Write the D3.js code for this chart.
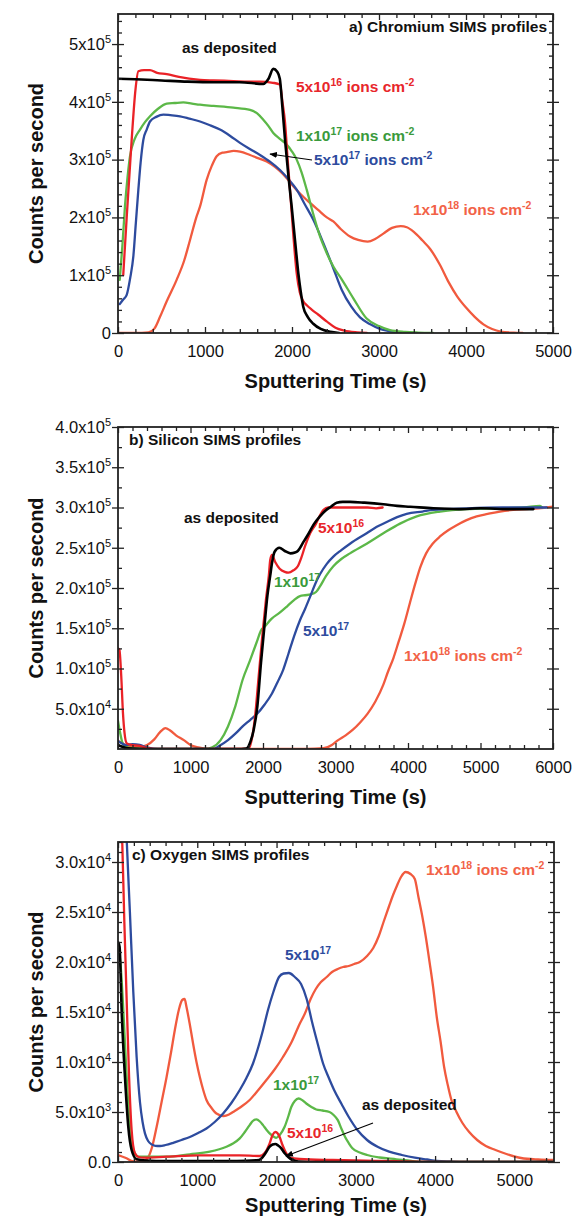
<!DOCTYPE html>
<html><head><meta charset="utf-8">
<script src="https://cdn.jsdelivr.net/npm/d3@7"></script>
<style>
body{margin:0;background:#fff}
svg{display:block}
text{font-family:"Liberation Sans",Arial,Helvetica,sans-serif;fill:#111}
</style>
</head><body>
<svg id="chart" width="573" height="1219"></svg>
<script>
// ---------------- DATA: (a) Chromium SIMS profiles  [time (s), counts/s] ----------------
const crAsDeposited = [[0,440000],[200,439000],[500,437000],[800,435000],[1100,434000],[1400,434000],[1670,431000],[1730,440000],[1785,457000],[1830,452000],[1860,440000],[1890,390000],[1920,334000],[1960,270000],[1996,219000],[2035,160000],[2073,103000],[2100,72000],[2130,45000],[2180,28000],[2245,16000],[2330,7000],[2440,2000],[2540,0]];
const cr5e16 = [[60,100000],[100,200000],[157,334000],[200,420000],[234,453000],[300,455000],[368,455000],[450,450000],[560,448000],[700,443000],[943,438000],[1100,437000],[1326,436000],[1500,435000],[1630,435000],[1780,433000],[1862,430000],[1890,400000],[1920,364000],[1950,300000],[1977,248000],[2015,170000],[2054,103000],[2090,70000],[2130,55000],[2170,48000],[2230,40000],[2300,32000],[2398,20000],[2500,9000],[2600,4000],[2750,1000],[2860,0]];
const cr1e17 = [[20,92000],[50,150000],[80,219000],[110,270000],[138,306000],[190,335000],[253,352000],[310,365000],[368,375000],[460,388000],[560,397000],[650,398000],[751,399000],[850,397000],[943,395000],[1100,393000],[1326,390000],[1517,386000],[1600,380000],[1670,369000],[1730,358000],[1785,346000],[1860,336000],[1939,326000],[2000,314000],[2054,300000],[2110,278000],[2169,248000],[2240,208000],[2322,167000],[2400,138000],[2475,115000],[2575,92000],[2705,60000],[2858,25000],[3000,12000],[3126,5000],[3300,2000],[3450,800],[3620,0]];
const cr5e17 = [[20,50000],[60,58000],[100,66000],[140,95000],[176,132000],[205,190000],[234,248000],[260,295000],[291,334000],[330,352000],[368,366000],[440,374000],[521,378000],[600,377000],[713,375000],[820,371000],[943,366000],[1050,360000],[1172,352000],[1290,341000],[1402,329000],[1520,318000],[1632,308000],[1750,296000],[1862,282000],[1960,266000],[2054,248000],[2150,222000],[2245,196000],[2362,155000],[2475,112000],[2571,75000],[2680,46000],[2782,27000],[2900,15000],[3011,7000],[3120,3000],[3250,0]];
const cr1e18 = [[0,0],[200,0],[350,1000],[420,8000],[483,28000],[560,55000],[674,92000],[760,125000],[828,161000],[900,200000],[943,219000],[1019,265000],[1080,290000],[1134,306000],[1200,312000],[1249,313000],[1330,315000],[1402,314000],[1517,308000],[1600,303000],[1709,297000],[1800,288000],[1862,280000],[1940,268000],[2015,254000],[2100,240000],[2207,225000],[2300,213000],[2400,200000],[2475,193000],[2560,180000],[2667,167000],[2760,161000],[2870,158000],[2960,163000],[3050,172000],[3150,182000],[3250,185000],[3320,183000],[3400,175000],[3500,160000],[3590,145000],[3700,118000],[3800,88000],[3900,63000],[4000,44000],[4100,28000],[4200,15000],[4300,7000],[4400,2500],[4550,500],[4650,0]];
const crXTicks = [0,1000,2000,3000,4000,5000];
const crYTicks = [0,100000,200000,300000,400000,500000];
const crYTickLabels = [["0",""],["1x10","5"],["2x10","5"],["3x10","5"],["4x10","5"],["5x10","5"]];

// ---------------- DATA: (b) Silicon SIMS profiles ----------------
const siAsDeposited = [[0,5000],[50,3000],[100,1500],[200,500],[400,0],[1700,0],[1770,500],[1830,10000],[1872,24000],[1922,53000],[1972,107000],[2023,156000],[2060,190000],[2099,215000],[2124,231000],[2160,245000],[2226,250000],[2300,246000],[2378,243000],[2440,244000],[2480,246000],[2550,256000],[2632,268000],[2700,279000],[2785,289000],[2860,296000],[2937,301000],[3016,306000],[3100,307000],[3200,307000],[3400,306000],[3660,304000],[3850,302000],[4028,301000],[4349,299000],[4700,298000],[5000,299000],[5400,298000],[5729,298000]];
const si5e16 = [[0,125000],[20,123000],[45,90000],[69,44000],[90,20000],[121,7000],[180,5000],[300,4000],[400,1000],[500,0],[1800,0],[1840,10000],[1890,40000],[1940,90000],[1990,140000],[2040,185000],[2080,215000],[2100,235000],[2124,241000],[2170,232000],[2230,224000],[2300,220000],[2350,219000],[2420,222000],[2480,227000],[2530,238000],[2580,252000],[2650,268000],[2731,280000],[2790,291000],[2835,297000],[2900,300000],[3050,300000],[3250,300000],[3443,300000],[3560,299000],[3650,300000]];
const si1e17 = [[0,35000],[30,20000],[60,8000],[100,3000],[200,1000],[400,0],[1200,0],[1300,2000],[1415,11000],[1517,28000],[1618,53000],[1719,86000],[1821,110000],[1922,135000],[1970,147000],[2023,152000],[2120,162000],[2226,169000],[2330,177000],[2428,185000],[2510,190000],[2580,191000],[2658,192000],[2731,195000],[2786,202000],[2870,215000],[2970,227000],[3080,236000],[3200,243000],[3430,255000],[3660,268000],[3890,280000],[4120,289000],[4441,295000],[4809,298000],[5269,299000],[5600,300000],[5821,302000],[5850,300000]];
const si5e17 = [[0,10000],[50,7000],[100,5000],[200,6000],[300,5000],[400,2000],[550,0],[1312,0],[1400,4000],[1517,11000],[1619,19000],[1719,28000],[1822,36000],[1922,44000],[2020,55000],[2124,69000],[2200,83000],[2277,98000],[2350,118000],[2428,140000],[2510,160000],[2580,174000],[2658,191000],[2720,205000],[2786,217000],[2880,230000],[2970,239000],[3080,247000],[3200,255000],[3430,268000],[3570,276000],[3706,282000],[3850,288000],[3982,292000],[4200,295000],[4349,297000],[4809,299000],[5300,300000],[5913,300000]];
const si1e18 = [[0,10000],[50,8000],[100,5000],[200,3000],[300,3000],[400,5000],[500,12000],[580,21000],[654,26000],[720,23000],[800,17000],[908,11000],[1000,5000],[1110,2000],[1200,500],[1300,0],[2600,0],[2835,1000],[2950,5000],[3036,11000],[3140,17000],[3240,24000],[3340,33000],[3443,44000],[3550,59000],[3660,80000],[3720,95000],[3799,113000],[3870,133000],[3950,156000],[4028,182000],[4102,206000],[4170,226000],[4250,243000],[4340,255000],[4441,264000],[4560,272000],[4671,278000],[4800,284000],[4947,289000],[5100,292000],[5269,295000],[5450,297000],[5637,298000],[5800,299000],[6000,301000]];
const siXTicks = [0,1000,2000,3000,4000,5000,6000];
const siYTicks = [50000,100000,150000,200000,250000,300000,350000,400000];
const siYTickLabels = [["5.0x10","4"],["1.0x10","5"],["1.5x10","5"],["2.0x10","5"],["2.5x10","5"],["3.0x10","5"],["3.5x10","5"],["4.0x10","5"]];

// ---------------- DATA: (c) Oxygen SIMS profiles ----------------
const oAsDeposited = [[0,22000],[20,21500],[46,15200],[88,8500],[130,3500],[172,1200],[235,270],[350,150],[613,100],[1000,100],[1500,100],[1780,200],[1829,530],[1870,1000],[1913,1530],[1950,1750],[1985,1800],[2020,1650],[2060,1370],[2100,900],[2144,530],[2200,200],[2270,50],[2400,0],[5500,0]];
const o5e16 = [[0,40000],[50,33000],[80,24000],[110,16000],[140,8500],[172,3200],[214,870],[260,500],[319,430],[613,530],[1032,670],[1536,670],[1787,600],[1850,900],[1913,1860],[1950,2700],[1985,3000],[2015,2850],[2039,2500],[2070,1800],[2102,1200],[2135,700],[2165,430],[2291,300],[2710,200],[3000,150],[3500,80],[4000,20],[5500,0]];
const o1e17 = [[0,21300],[30,20000],[67,15200],[109,8500],[151,3500],[193,1200],[256,530],[613,530],[906,770],[1158,1030],[1368,1530],[1450,1850],[1536,2360],[1600,3000],[1661,3690],[1700,4100],[1745,4260],[1790,4050],[1829,3690],[1870,3250],[1913,2860],[1960,2560],[1997,2420],[2040,2700],[2102,3520],[2150,4600],[2186,5500],[2230,6100],[2278,6350],[2330,6150],[2375,5850],[2440,5500],[2501,5250],[2580,5150],[2668,5000],[2720,4700],[2773,4190],[2820,3300],[2865,2500],[2910,1900],[2957,1370],[3050,950],[3142,700],[3300,450],[3512,270],[3700,100],[3840,0],[5500,0]];
const o5e17 = [[0,60000],[111,32000],[150,25000],[193,17000],[235,10500],[277,6000],[310,4000],[340,2860],[380,2100],[424,1760],[470,1620],[529,1600],[600,1700],[696,1920],[800,2200],[906,2500],[1010,2900],[1116,3350],[1220,4000],[1326,4850],[1430,5900],[1536,7200],[1620,8400],[1703,9850],[1770,11500],[1829,13200],[1892,15200],[1960,17000],[2031,18500],[2090,18850],[2156,18900],[2230,18500],[2309,17800],[2380,16300],[2448,14000],[2520,11800],[2587,9850],[2660,8400],[2726,7200],[2820,5800],[2911,4500],[3020,3200],[3142,2200],[3280,1500],[3420,1030],[3580,700],[3744,430],[3900,250],[4021,100],[4200,50],[4500,0],[5500,0]];
const o1e18 = [[0,700],[100,400],[193,50],[300,0],[382,500],[430,1500],[487,3500],[550,6000],[613,8500],[670,11000],[717,13200],[770,15300],[810,16200],[840,16300],[864,15500],[905,13800],[948,11800],[990,10000],[1032,8500],[1075,7200],[1116,6200],[1180,5400],[1242,4850],[1334,4600],[1400,4750],[1452,5000],[1550,5500],[1661,6200],[1770,7200],[1872,8200],[1980,9300],[2081,10500],[2190,12000],[2291,13800],[2355,14800],[2430,16300],[2495,17300],[2560,18000],[2633,18500],[2700,19000],[2772,19300],[2840,19500],[2911,19600],[2980,19800],[3050,20000],[3142,20600],[3220,21400],[3290,22600],[3350,24000],[3420,25600],[3470,26700],[3512,27500],[3570,28500],[3628,29000],[3690,28800],[3744,28300],[3790,26500],[3840,24500],[3883,22500],[3930,20000],[3975,17500],[4021,14500],[4070,12000],[4114,9500],[4160,7700],[4206,6200],[4270,5000],[4345,3900],[4430,3000],[4531,2200],[4640,1600],[4762,1200],[4900,800],[5085,400],[5300,250],[5500,200]];
const oXTicks = [0,1000,2000,3000,4000,5000];
const oYTicks = [0,5000,10000,15000,20000,25000,30000];
const oYTickLabels = [["0.0",""],["5.0x10","3"],["1.0x10","4"],["1.5x10","4"],["2.0x10","4"],["2.5x10","4"],["3.0x10","4"]];

// ---------------- DRAWING ----------------
const COL = {black:"#000000", red:"#ea2227", green:"#5cb848", blue:"#2d4b9e", orange:"#f15a3e"};
const LBL = {black:"#111111", red:"#e8262b", green:"#3a9a3c", blue:"#2d4b9e", orange:"#f26247"};
const svg = d3.select("#chart");
const defs = svg.append("defs");
defs.append("marker").attr("id","arrow").attr("viewBox","0 0 10 10").attr("refX",9).attr("refY",5)
  .attr("markerWidth",7).attr("markerHeight",7).attr("orient","auto-start-reverse")
  .append("path").attr("d","M0,1 L10,5 L0,9 z").attr("fill","#000");

function supText(sel, parts, baseSize, supSize, rise){
  let prevSup=false;
  parts.forEach(([t,s])=>{
    const ts = sel.append("tspan").text(t).style("font-size",(s?supSize:baseSize)+"px");
    if(s && !prevSup) ts.attr("dy",-rise);
    if(!s && prevSup) ts.attr("dy",rise);
    prevSup=s;
  });
}

function drawPanel(p){
  const x = d3.scaleLinear().domain([0,p.xMax]).range([p.L,p.R]);
  const y = d3.scaleLinear().domain([0,p.yMax]).range([p.B,p.T]);
  const g = svg.append("g");
  const cid = "clip"+p.id;
  defs.append("clipPath").attr("id",cid).append("rect")
    .attr("x",p.L).attr("y",p.T).attr("width",p.R-p.L).attr("height",p.B-p.T);

  const line = d3.line().x(d=>x(d[0])).y(d=>y(d[1])).curve(d3.curveMonotoneX);
  const lg = g.append("g").attr("clip-path",`url(#${cid})`);
  p.series.forEach(s=>{
    lg.append("path").datum(s.data).attr("d",line).attr("fill","none")
      .attr("stroke",COL[s.c]).attr("stroke-width",s.c==="black"?2.6:2.3)
      .attr("stroke-linejoin","round").attr("stroke-linecap","round");
  });

  const xMinor = d3.range(0,p.xMax+1,p.xMinorStep).filter(v=>!p.xTicks.includes(v));
  const yMinor = d3.range(0,p.yMax+1,p.yMinorStep).filter(v=>!p.yTicks.includes(v) && v>0);

  const bx = g.append("g").attr("transform",`translate(0,${p.B})`)
    .call(d3.axisBottom(x).tickValues(p.xTicks).tickSize(-6).tickPadding(12).tickFormat(d3.format("d")));
  bx.selectAll("text").style("font-size","16.5px").attr("fill","#111");
  g.append("g").attr("transform",`translate(0,${p.B})`)
    .call(d3.axisBottom(x).tickValues(xMinor).tickSize(-4).tickFormat(""));
  g.append("g").attr("transform",`translate(0,${p.T})`)
    .call(d3.axisTop(x).tickValues(p.xTicks).tickSize(-6).tickFormat(""));
  g.append("g").attr("transform",`translate(0,${p.T})`)
    .call(d3.axisTop(x).tickValues(xMinor).tickSize(-4).tickFormat(""));
  const ly = g.append("g").attr("transform",`translate(${p.L},0)`)
    .call(d3.axisLeft(y).tickValues(p.yTicks).tickSize(6).tickPadding(1));
  ly.selectAll(".tick line").attr("x1",6);
  ly.selectAll(".tick text").each(function(d,i){
    const t = d3.select(this); t.text(null).style("font-size","16.5px").attr("fill","#111");
    const lab = p.yLabels[i];
    const parts=[[lab[0],false]]; if(lab[1]) parts.push([lab[1],true]);
    supText(t, parts, 16.5, 11, 7);
  });
  g.append("g").attr("transform",`translate(${p.L},0)`)
    .call(d3.axisLeft(y).tickValues(yMinor).tickSize(-4).tickFormat(""));
  const ry = g.append("g").attr("transform",`translate(${p.R},0)`)
    .call(d3.axisRight(y).tickValues(p.yTicks).tickSize(6).tickFormat(""));
  ry.selectAll(".tick line").attr("x1",-6);
  g.append("g").attr("transform",`translate(${p.R},0)`)
    .call(d3.axisRight(y).tickValues(yMinor).tickSize(-4).tickFormat(""));
  g.selectAll(".domain").remove();
  g.selectAll(".tick line").attr("stroke","#222").attr("stroke-width",1.3);

  g.append("rect").attr("x",p.L).attr("y",p.T).attr("width",p.R-p.L).attr("height",p.B-p.T)
    .attr("fill","none").attr("stroke","#222").attr("stroke-width",1.8);

  g.append("text").attr("x",(p.L+p.R)/2).attr("y",p.B+p.xTitleDy).attr("text-anchor","middle")
    .style("font-size","20px").style("font-weight","bold").text("Sputtering Time (s)");
  g.append("text").attr("transform",`translate(43,${(p.T+p.B)/2}) rotate(-90)`).attr("text-anchor","middle")
    .style("font-size","20px").style("font-weight","bold").text("Counts per second");

  p.notes.forEach(n=>{
    const t = g.append("text").attr("x",n.x).attr("y",n.y).style("font-weight","bold")
      .style("font-size","15.5px").style("fill",LBL[n.c]);
    supText(t, n.parts, 15.5, 10.5, 6.5);
  });
  (p.arrows||[]).forEach(a=>{
    g.append("line").attr("x1",a[0]).attr("y1",a[1]).attr("x2",a[2]).attr("y2",a[3])
      .attr("stroke","#000").attr("stroke-width",1.1).attr("marker-end","url(#arrow)");
  });
  return {x,y};
}

drawPanel({
  id:"a", L:118, R:553, T:14, B:333, xMax:5000, yMax:552000,
  xTicks:crXTicks, xMinorStep:200, yTicks:crYTicks, yLabels:crYTickLabels, yMinorStep:20000, xTitleDy:55,
  series:[{data:cr1e18,c:"orange"},{data:cr5e17,c:"blue"},{data:cr1e17,c:"green"},{data:cr5e16,c:"red"},{data:crAsDeposited,c:"black"}],
  notes:[
    {x:349,y:32,c:"black",parts:[["a) Chromium SIMS profiles",false]]},
    {x:182,y:53,c:"black",parts:[["as deposited",false]]},
    {x:296,y:92,c:"red",parts:[["5x10",false],["16",true],[" ions cm",false],["-2",true]]},
    {x:296,y:141,c:"green",parts:[["1x10",false],["17",true],[" ions cm",false],["-2",true]]},
    {x:314,y:165,c:"blue",parts:[["5x10",false],["17",true],[" ions cm",false],["-2",true]]},
    {x:413,y:215,c:"orange",parts:[["1x10",false],["18",true],[" ions cm",false],["-2",true]]}
  ],
  arrows:[[312,160,270,154]]
});

drawPanel({
  id:"b", L:118, R:553, T:427, B:749, xMax:6000, yMax:400000,
  xTicks:siXTicks, xMinorStep:200, yTicks:siYTicks, yLabels:siYTickLabels, yMinorStep:25000, xTitleDy:55,
  series:[{data:si1e18,c:"orange"},{data:si1e17,c:"green"},{data:si5e17,c:"blue"},{data:si5e16,c:"red"},{data:siAsDeposited,c:"black"}],
  notes:[
    {x:129,y:445,c:"black",parts:[["b) Silicon SIMS profiles",false]]},
    {x:184,y:523,c:"black",parts:[["as deposited",false]]},
    {x:318,y:533,c:"red",parts:[["5x10",false],["16",true]]},
    {x:274,y:587,c:"green",parts:[["1x10",false],["17",true]]},
    {x:303,y:636,c:"blue",parts:[["5x10",false],["17",true]]},
    {x:404,y:661,c:"orange",parts:[["1x10",false],["18",true],[" ions cm",false],["-2",true]]}
  ]
});

drawPanel({
  id:"c", L:118, R:554, T:842, B:1162, xMax:5500, yMax:32000,
  xTicks:oXTicks, xMinorStep:200, yTicks:oYTicks, yLabels:oYTickLabels, yMinorStep:1000, xTitleDy:50,
  series:[{data:o1e18,c:"orange"},{data:o5e17,c:"blue"},{data:o1e17,c:"green"},{data:o5e16,c:"red"},{data:oAsDeposited,c:"black"}],
  notes:[
    {x:132,y:860,c:"black",parts:[["c) Oxygen SIMS profiles",false]]},
    {x:426,y:875,c:"orange",parts:[["1x10",false],["18",true],[" ions cm",false],["-2",true]]},
    {x:285,y:960,c:"blue",parts:[["5x10",false],["17",true]]},
    {x:273,y:1090,c:"green",parts:[["1x10",false],["17",true]]},
    {x:287,y:1138,c:"red",parts:[["5x10",false],["16",true]]},
    {x:362,y:1110,c:"black",parts:[["as deposited",false]]}
  ],
  arrows:[[373,1123,286,1156]]
});
</script>
</body></html>
